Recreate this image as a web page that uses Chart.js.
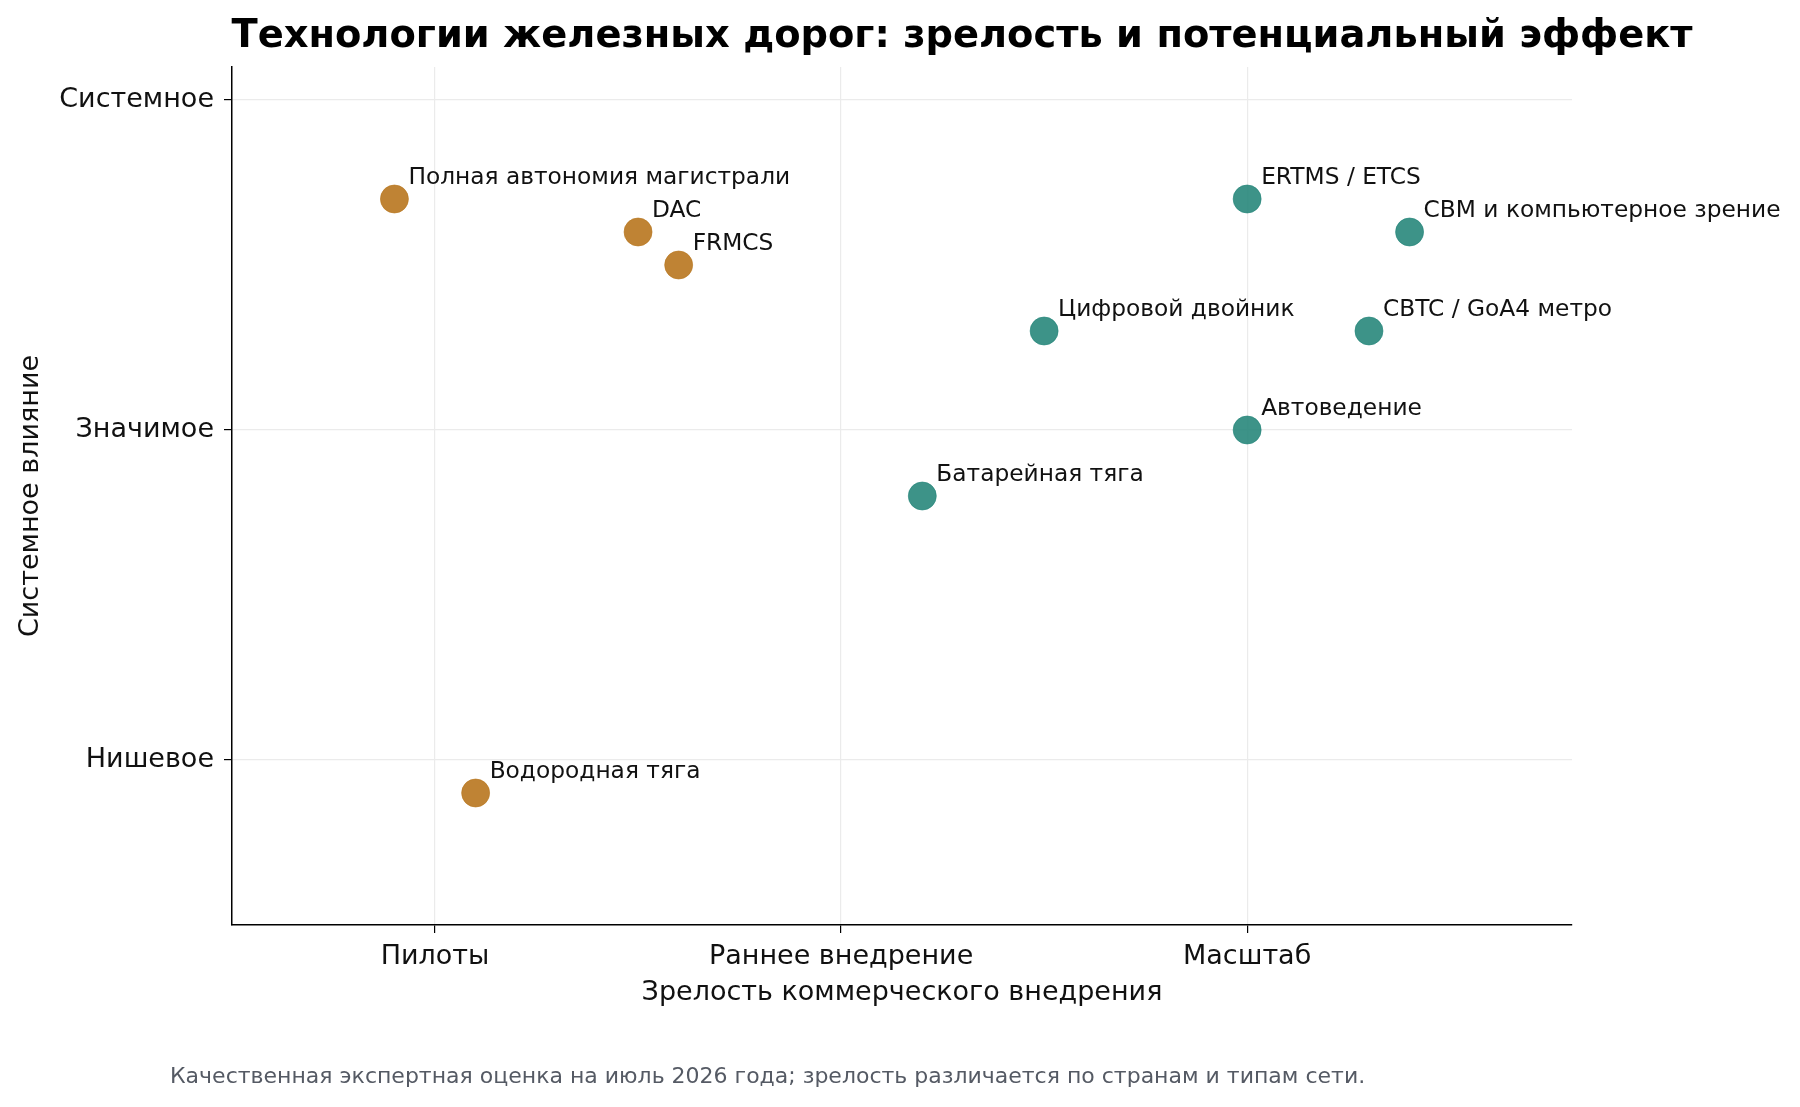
<!DOCTYPE html>
<html>
<head>
<meta charset="utf-8">
<script src="https://cdn.jsdelivr.net/npm/chart.js@4/dist/chart.umd.min.js"></script>
<style>
  html, body { margin: 0; padding: 0; background: #fff; }
  #wrap { width: 1800px; height: 1107px; position: relative; }
</style>
</head>
<body>
<div id="wrap"><canvas id="techChart" width="1800" height="1107"></canvas></div>
<script>
// Data
const techNames = ['Полная автономия магистрали', 'DAC', 'FRMCS', 'Водородная тяга',
                   'Батарейная тяга', 'Цифровой двойник', 'ERTMS / ETCS', 'Автоведение',
                   'CBTC / GoA4 метро', 'CBM и компьютерное зрение'];
const maturity = [0.9, 1.5, 1.6, 1.1, 2.2, 2.5, 3.0, 3.0, 3.3, 3.4];
const impact   = [2.7, 2.6, 2.5, 0.9, 1.8, 2.3, 2.7, 2.0, 2.3, 2.6];
const groups   = ['pilot', 'pilot', 'pilot', 'pilot', 'deploy', 'deploy', 'deploy', 'deploy', 'deploy', 'deploy'];
const maturityTicks = ['Пилоты', 'Раннее внедрение', 'Масштаб'];
const impactTicks = ['Нишевое', 'Значимое', 'Системное'];

const FONT = "'DejaVu Sans', sans-serif";

function pointsFor(g) {
    const pts = [];
    for (let i = 0; i < techNames.length; i++) {
        if (groups[i] === g) pts.push({ x: maturity[i], y: impact[i], name: techNames[i] });
    }
    return pts;
}

// labels, title and footnote
const annotate = {
    id: 'annotate',
    afterDatasetsDraw(chart) {
        const ctx = chart.ctx;
        ctx.save();
        ctx.fillStyle = '#111';
        ctx.font = '23.3px ' + FONT;
        ctx.textAlign = 'left';
        ctx.textBaseline = 'alphabetic';
        chart.data.datasets.forEach((ds, di) => {
            const meta = chart.getDatasetMeta(di);
            meta.data.forEach((pt, i) => {
                ctx.fillText(ds.data[i].name, pt.x + 14, pt.y - 15);
            });
        });
        ctx.restore();
    },
    afterDraw(chart) {
        const ctx = chart.ctx;
        ctx.save();
        ctx.fillStyle = '#000';
        ctx.font = 'bold 38.4px ' + FONT;
        ctx.textAlign = 'center';
        ctx.textBaseline = 'middle';
        ctx.fillText('Технологии железных дорог: зрелость и потенциальный эффект', 962, 37);

        ctx.fillStyle = '#555a64';
        ctx.font = '22px ' + FONT;
        ctx.textAlign = 'left';
        ctx.fillText('Качественная экспертная оценка на июль 2026 года; зрелость различается по странам и типам сети.', 170, 1077);
        ctx.restore();
    }
};

document.addEventListener('DOMContentLoaded', function() {
    const ctx = document.getElementById('techChart').getContext('2d');
    new Chart(ctx, {
        type: 'scatter',
        data: {
            datasets: [{
                label: 'Пилоты',
                data: pointsFor('pilot'),
                backgroundColor: 'rgba(184, 118, 30, 0.9)',
                borderColor: 'rgba(184, 118, 30, 0.6)',
                borderWidth: 1,
                pointRadius: 14,
                pointHoverRadius: 14
            }, {
                label: 'Внедрение',
                data: pointsFor('deploy'),
                backgroundColor: 'rgba(34, 132, 120, 0.88)',
                borderColor: 'rgba(34, 132, 120, 0.6)',
                borderWidth: 1,
                pointRadius: 14,
                pointHoverRadius: 14
            }]
        },
        options: {
            responsive: false,
            animation: false,
            layout: { padding: { left: 0, top: 67, right: 228, bottom: 94 } },
            plugins: {
                legend: { display: false },
                tooltip: { enabled: false }
            },
            scales: {
                x: {
                    type: 'linear',
                    min: 0.5,
                    max: 3.8,
                    afterFit: s => { s.height = 88; },
                    afterBuildTicks: s => { s.ticks = [1, 2, 3].map(v => ({ value: v })); },
                    ticks: {
                        callback: v => maturityTicks[v - 1],
                        color: '#111',
                        font: { family: FONT, size: 27 },
                        padding: 8,
                        maxRotation: 0
                    },
                    grid: { color: '#ebebeb', lineWidth: 1.2, tickColor: '#000', tickLength: 8 },
                    border: { color: '#000', width: 1.5 },
                    title: {
                        display: true,
                        text: 'Зрелость коммерческого внедрения',
                        color: '#111',
                        font: { family: FONT, size: 27 },
                        padding: { top: 4, bottom: 4 }
                    }
                },
                y: {
                    type: 'linear',
                    min: 0.5,
                    max: 3.1,
                    afterFit: s => { s.width = 232; },
                    afterBuildTicks: s => { s.ticks = [1, 2, 3].map(v => ({ value: v })); },
                    ticks: {
                        callback: v => impactTicks[v - 1],
                        color: '#111',
                        font: { family: FONT, size: 27 },
                        padding: 10
                    },
                    grid: { color: '#ebebeb', lineWidth: 1.2, tickColor: '#000', tickLength: 8 },
                    border: { color: '#000', width: 1.5 },
                    title: {
                        display: true,
                        text: 'Системное влияние',
                        color: '#111',
                        font: { family: FONT, size: 27 },
                        padding: { top: 15, bottom: 4 }
                    }
                }
            }
        },
        plugins: [annotate]
    });
});
</script>
</body>
</html>
